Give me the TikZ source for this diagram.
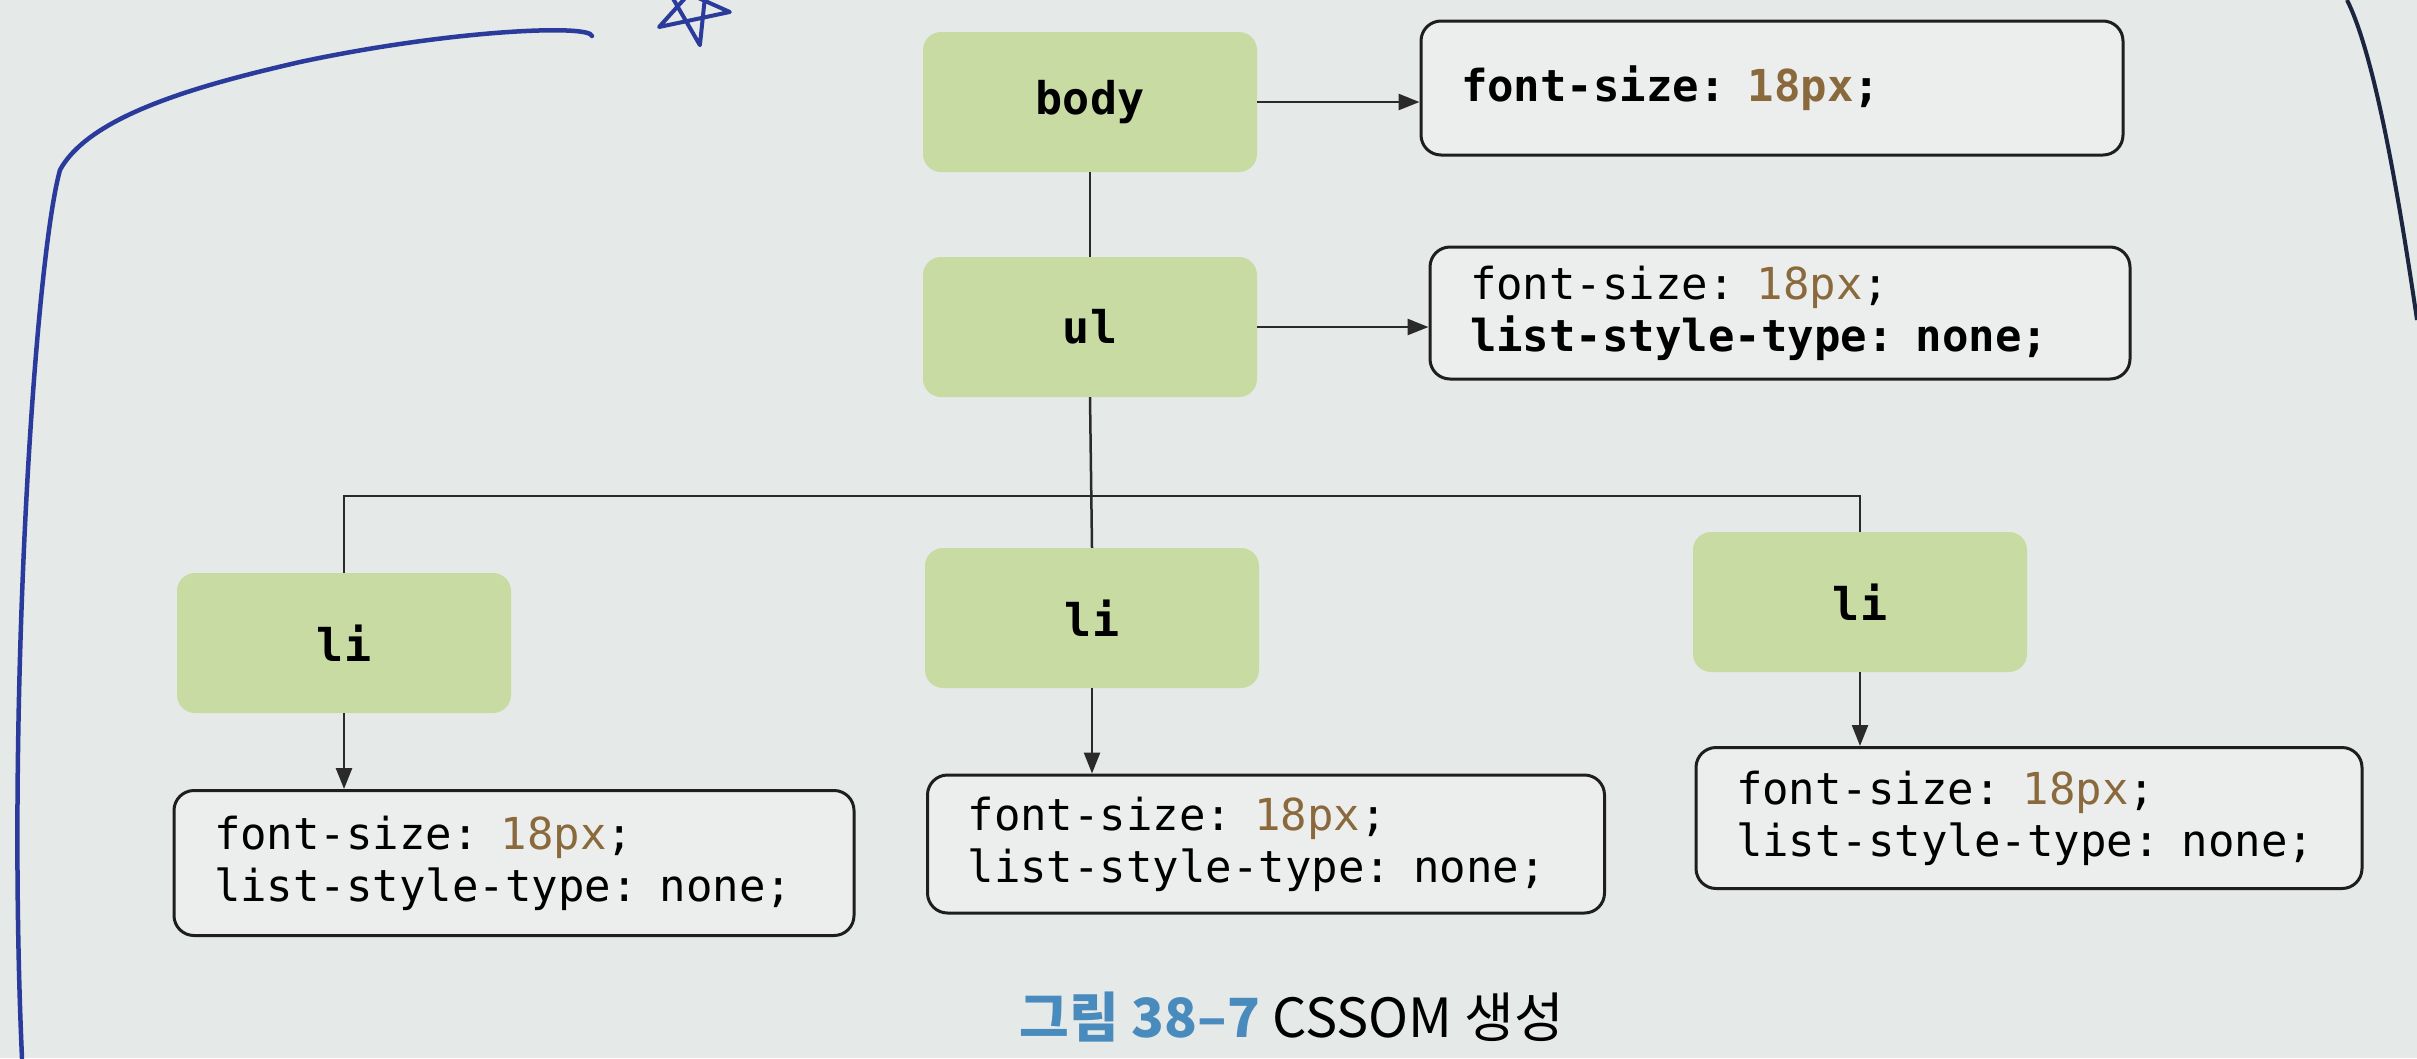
\documentclass[tikz,border=0pt]{standalone}
\usepackage{fontspec}
\setmonofont{DejaVu Sans Mono}
\newfontfamily\krfont{Noto Sans CJK KR}
\usetikzlibrary{arrows.meta}

\definecolor{paper}{HTML}{E5E9E8}
\definecolor{nodegreen}{RGB}{200,219,163}
\definecolor{boxfill}{HTML}{ECEEED}
\definecolor{boxline}{HTML}{1E1E1E}
\definecolor{linegray}{HTML}{2A2A2A}
\definecolor{pxbrown}{HTML}{8A6A3C}
\definecolor{capblue}{HTML}{4A8BBE}
\definecolor{penblue}{HTML}{2B3B9C}
\definecolor{pendark}{HTML}{1C2540}

\newcommand\sizeval{\textcolor{pxbrown}{18px}}

\tikzset{
  elem/.style={fill=nodegreen, rounded corners=18pt, minimum width=334pt,
    minimum height=140pt, inner sep=0pt, text=black,
    font=\fontsize{45}{52}\selectfont\ttfamily\bfseries},
  props/.style={draw=boxline, line width=3pt, fill=boxfill, rounded corners=20pt,
    align=left, inner xsep=40pt, inner ysep=0pt, text=black,
    font=\fontsize{44}{52}\selectfont\ttfamily},
  link/.style={draw=linegray, line width=2.5pt},
  arr/.style={link, -{Triangle[length=21pt,width=16pt]}},
  pen/.style={draw=penblue, line width=4.5pt, line cap=round, line join=round},
}

\begin{document}
\begin{tikzpicture}[x=1pt,y=-1pt]
  \useasboundingbox (0,0) rectangle (2417,1058);
  \fill[paper] (0,0) rectangle (2417,1058);

  % element nodes
  \node[elem] (body) at (1090,102) {body};
  \node[elem] (ul)   at (1090,327) {ul};
  \node[elem] (li1)  at (344,643)  {li};
  \node[elem] (li2)  at (1092,618) {li};
  \node[elem] (li3)  at (1860,602) {li};

  % computed style boxes
  \node[props, text width=622pt, minimum height=134pt] (bodycss) at (1772,88)
    {\bfseries font-size: \sizeval;};
  \node[props, text width=620pt, minimum height=132pt] (ulcss) at (1780,313)
    {font-size: \sizeval;\\\bfseries list-style-type: none;};
  \node[props, text width=600pt, minimum height=145pt] (licss1) at (514,863)
    {font-size: \sizeval;\\list-style-type: none;};
  \node[props, text width=597pt, minimum height=138pt] (licss2) at (1266,844)
    {font-size: \sizeval;\\list-style-type: none;};
  \node[props, text width=586pt, minimum height=141pt] (licss3) at (2029,818)
    {font-size: \sizeval;\\list-style-type: none;};

  % tree links
  \coordinate (bar) at (1090,496);
  \draw[link] (body.south) -- (ul.north);
  \draw[link] (ul.south) -- (li2.north);
  \draw[link] (li1.north) -- (li1.north |- bar) -- (li3.north |- bar) -- (li3.north);

  % style arrows
  \draw[arr] (body.east) -- (body.east -| bodycss.west);
  \draw[arr] (ul.east) -- (ul.east -| ulcss.west);
  \draw[arr] (li1.south) -- (li1.south |- licss1.north);
  \draw[arr] (li2.south) -- (li2.south |- licss2.north);
  \draw[arr] (li3.south) -- (li3.south |- licss3.north);

  % caption
  \node[font=\krfont\fontsize{54}{60}\selectfont, text=black] (caption) at (1292,1017)
    {\textcolor{capblue}{\bfseries 그림 38–7} CSSOM 생성};

  % pen marks
  \draw[pen] (592,36) .. controls (590,24) and (450,30) .. (300,62)
    .. controls (200,85) and (90,115) .. (60,170)
    .. controls (35,260) and (6,700) .. (22,1058);
  \begin{scope}[shift={(692,8)}, rotate=12]
    \draw[pen, line width=4pt] (90:38) -- (234:38) -- (18:38) -- (162:38) -- (306:38) -- cycle;
  \end{scope}
  \draw[draw=pendark, line width=4pt] (2347,0) .. controls (2372,50) and (2395,170) .. (2417,320);
\end{tikzpicture}
\end{document}
